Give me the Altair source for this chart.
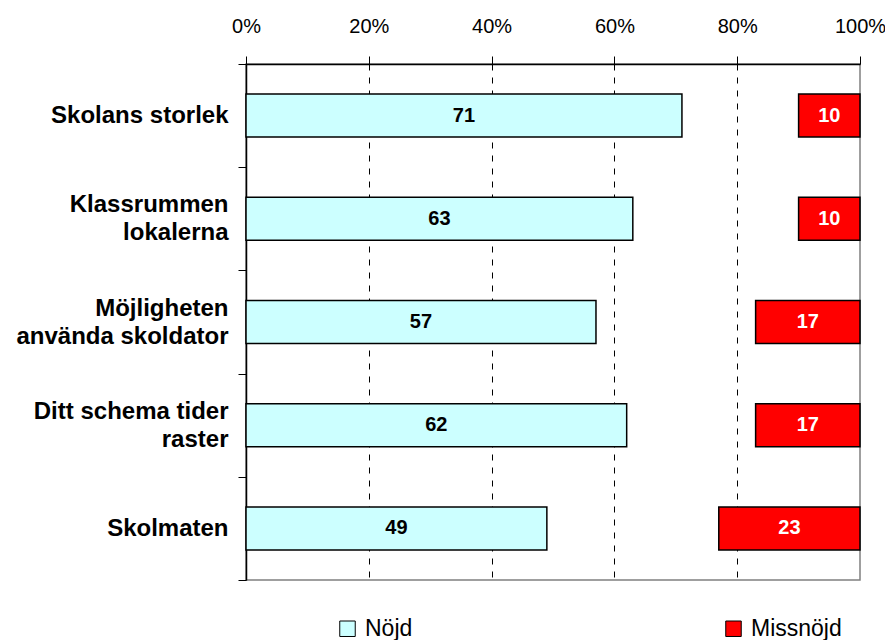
import altair as alt
import pandas as pd

categories = ["Skolans storlek", "Klassrummen\nlokalerna", "Möjligheten\nanvända skoldator",
              "Ditt schema tider\nraster", "Skolmaten"]
nojd = [71, 63, 57, 62, 49]
missnojd = [10, 10, 17, 17, 23]
series = ["Nöjd", "Missnöjd"]
colors = ["#CCFFFF", "#FF0000"]
x_ticks = [0, 20, 40, 60, 80, 100]

rows = []
for c, n, m in zip(categories, nojd, missnojd):
    rows.append({"cat": c, "serie": series[0], "start": 0, "end": n, "value": n})
    rows.append({"cat": c, "serie": series[1], "start": 100 - m, "end": 100, "value": m})
df = pd.DataFrame(rows)

FONT = "Liberation Sans"

y_enc = alt.Y(
    "cat:N", sort=categories, title=None,
    scale=alt.Scale(paddingInner=0, paddingOuter=0),
    axis=alt.Axis(
        orient="left", labelExpr="split(datum.label, '\\n')",
        labelFont=FONT, labelFontSize=24, labelFontWeight="bold", labelColor="black",
        labelPadding=10, labelLineHeight=28, labelLimit=400,
        labelOffset={"condition": {"test": "indexof(datum.label, '\\n') >= 0", "value": -14}, "value": 0},
        tickSize=8, tickColor="black", tickWidth=1,
        tickBand="extent", domainColor="black", domainWidth=1.5, grid=False,
    ),
)

x_enc = alt.X(
    "start:Q", title=None,
    scale=alt.Scale(domain=[0, 100], nice=False),
    axis=alt.Axis(
        orient="top", values=x_ticks, labelExpr="datum.value + '%'",
        labelFont=FONT, labelFontSize=20, labelColor="black", labelPadding=20,
        labelFlush=False, labelOverlap=False,
        tickSize=8, tickColor="black", domainColor="black", domainWidth=1.5,
        grid=True, gridColor="black", gridWidth=1, gridDash=[6, 7],
        gridOpacity={"condition": {"test": "datum.value <= 0 || datum.value >= 100", "value": 0}, "value": 1},
    ),
)

bars = alt.Chart(df).mark_bar(stroke="black", strokeWidth=1.5, size=43).encode(
    y=y_enc,
    x=x_enc,
    x2="end:Q",
    color=alt.Color(
        "serie:N", scale=alt.Scale(domain=series, range=colors),
        legend=alt.Legend(
            title=None, orient="none", legendX=90, legendY=553, direction="horizontal",
            columnPadding=309, symbolType="square", symbolSize=240,
            symbolStrokeColor="black", symbolStrokeWidth=1,
            labelFont=FONT, labelFontSize=23, labelColor="black", labelOffset=6, padding=0,
        ),
    ),
)

labels = alt.Chart(df).transform_calculate(
    mid="(datum.start + datum.end) / 2"
).mark_text(font=FONT, fontSize=20, fontWeight="bold", baseline="middle", align="center").encode(
    y=y_enc,
    x="mid:Q",
    text="value:Q",
    color=alt.condition("datum.serie == 'Missnöjd'", alt.value("white"), alt.value("black")),
)

chart = (bars + labels).properties(
    width=614, height=516,
    autosize=alt.AutoSizeParams(type="none"),
    padding={"left": 238, "top": 56, "right": 25, "bottom": 60},
).configure_view(stroke="#808080", strokeWidth=1.5)

chart.save("out.html", embed_options={"renderer": "svg", "actions": False})
